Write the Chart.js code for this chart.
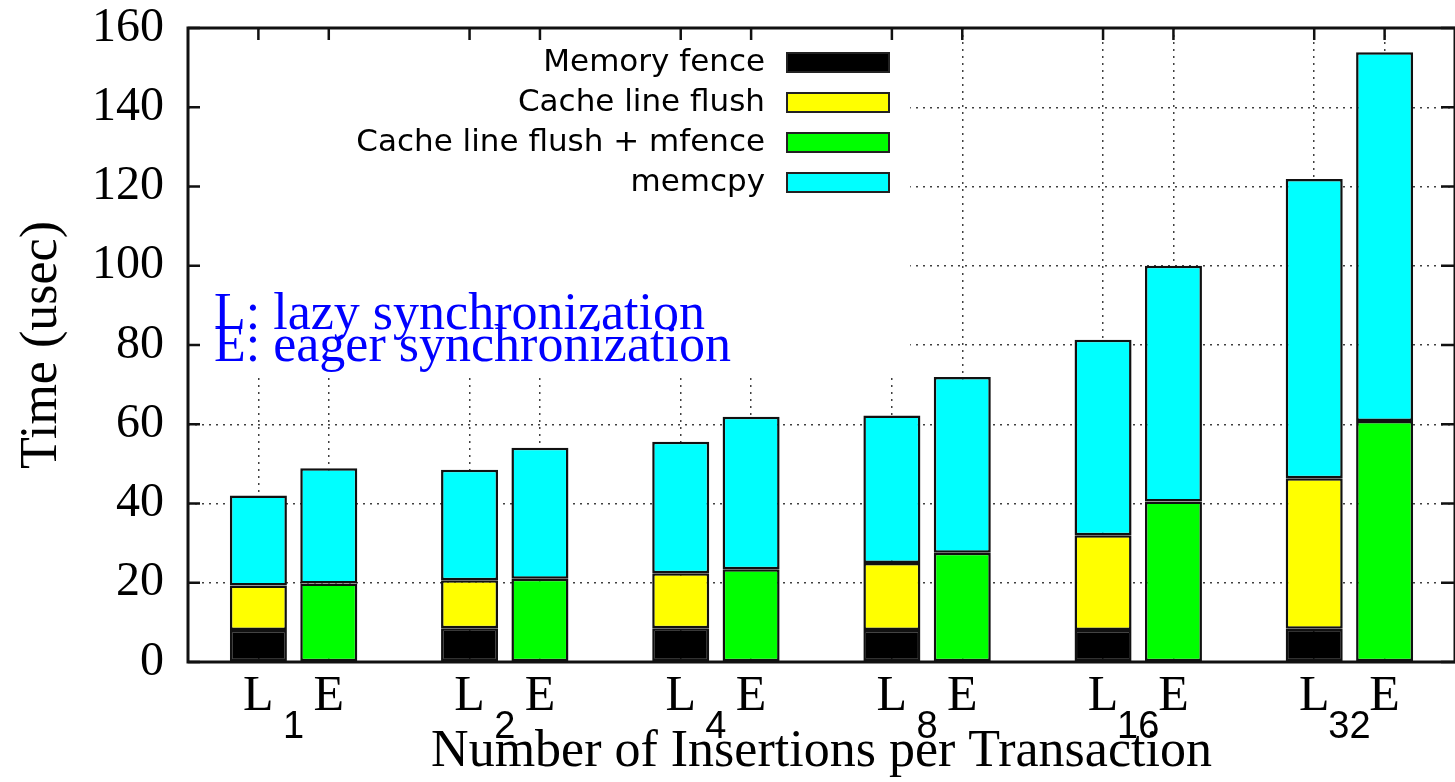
<!DOCTYPE html>
<html>
<head>
<meta charset="utf-8">
<script src="https://cdn.jsdelivr.net/npm/chart.js@4.4.1/dist/chart.umd.min.js"></script>
<style>
  html, body { margin: 0; padding: 0; background: #fff; }
  #wrap { width: 1455px; height: 782px; }
</style>
</head>
<body>
<div id="wrap"><canvas id="chart"></canvas></div>
<script>
// number of insertions per transaction (one L/E pair per group)
const groups = ['1', '2', '4', '8', '16', '32'];

// L = lazy synchronization
const lazyFence = [8.1, 8.5, 8.5, 8.1, 8.1, 8.4];
const lazyFlush = [11.2, 12.1, 13.9, 16.9, 23.9, 38.0];
const lazyMemcpy = [22.7, 27.9, 33.2, 37.2, 49.3, 75.5];

// E = eager synchronization
const eagerFlushFence = [19.8, 21.0, 23.4, 27.6, 40.5, 60.8];
const eagerMemcpy = [29.1, 33.1, 38.5, 44.3, 59.5, 93.1];

const seriesNames = ['Memory fence', 'Cache line flush', 'Cache line flush + mfence', 'memcpy'];
const seriesColors = ['#000000', '#ffff00', '#00ff00', '#00ffff'];
const yTicks = [0, 20, 40, 60, 80, 100, 120, 140, 160];
const noteLines = ['L: lazy synchronization', 'E: eager synchronization'];

// slots: blank, then L, E, blank for every group
const labels = [''];
groups.forEach(() => labels.push('L', 'E', ''));
const lIdx = i => 1 + i * 3;
const eIdx = i => 2 + i * 3;

function place(lazy, eager) {
    const arr = new Array(labels.length).fill(null);
    if (lazy) lazy.forEach((v, i) => arr[lIdx(i)] = v);
    if (eager) eager.forEach((v, i) => arr[eIdx(i)] = v);
    return arr;
}

const serif = '"Liberation Serif", "Times New Roman", serif';
const gridColor = 'rgba(0,0,0,0.75)';

// white key box (in axis units) behind legend and note
const keyBoxRight = 10.26;
const keyBoxBottom = 72;

const paperPlugin = {
    id: 'paper',
    beforeDatasetsDraw(chart) {
        const { ctx, chartArea: a, scales: { x, y } } = chart;
        ctx.save();
        ctx.fillStyle = '#fff';
        ctx.fillRect(a.left + 2, a.top + 2, x.getPixelForValue(keyBoxRight) - a.left - 2, y.getPixelForValue(keyBoxBottom) - a.top - 2);
        ctx.restore();
    },
    afterDatasetsDraw(chart) {
        const { ctx, chartArea: a, scales: { x, y } } = chart;
        ctx.save();

        // frame
        ctx.strokeStyle = '#111';
        ctx.lineWidth = 3;
        ctx.strokeRect(a.left, a.top, a.right - a.left, a.bottom - a.top);

        // inward ticks
        ctx.lineWidth = 2.5;
        ctx.beginPath();
        yTicks.forEach(v => {
            const py = y.getPixelForValue(v);
            ctx.moveTo(a.left, py); ctx.lineTo(a.left + 12, py);
            ctx.moveTo(a.right, py); ctx.lineTo(a.right - 14, py);
        });
        labels.forEach((lab, i) => {
            if (!lab) return;
            const px = x.getPixelForValue(i);
            ctx.moveTo(px, a.top); ctx.lineTo(px, a.top + 12);
        });
        ctx.stroke();

        // group numbers under each L/E pair
        ctx.fillStyle = '#000';
        ctx.font = '38px "Liberation Sans", Arial, sans-serif';
        ctx.textAlign = 'center';
        ctx.textBaseline = 'middle';
        groups.forEach((g, i) => {
            const px = (x.getPixelForValue(lIdx(i)) + x.getPixelForValue(eIdx(i))) / 2;
            ctx.fillText(g, px, a.bottom + 66);
        });

        // legend: text on the left, swatch on the right
        ctx.font = '31px "DejaVu Sans", sans-serif';
        ctx.textAlign = 'right';
        chart.data.datasets.forEach((ds, k) => {
            const rowY = a.top + 35 + k * 40;
            ctx.fillStyle = '#000';
            ctx.fillText(ds.label, 765, rowY);
            ctx.fillStyle = ds.backgroundColor;
            ctx.fillRect(787, rowY - 10, 102, 19);
            ctx.strokeStyle = '#222';
            ctx.lineWidth = 2;
            ctx.strokeRect(787, rowY - 10, 102, 19);
        });

        // note
        ctx.font = '52px ' + serif;
        ctx.fillStyle = '#0000ff';
        ctx.textAlign = 'left';
        ctx.textBaseline = 'alphabetic';
        noteLines.forEach((t, k) => ctx.fillText(t, a.left + 26, 329 + k * 32));

        ctx.restore();
    }
};

const barStyle = { borderColor: '#111', borderWidth: 2.5, borderSkipped: false, barPercentage: 0.81, categoryPercentage: 1.0, stack: 's' };

new Chart(document.getElementById('chart'), {
    type: 'bar',
    data: {
        labels: labels,
        datasets: [
            { label: seriesNames[0], data: place(lazyFence, null), backgroundColor: seriesColors[0], ...barStyle },
            { label: seriesNames[1], data: place(lazyFlush, null), backgroundColor: seriesColors[1], ...barStyle },
            { label: seriesNames[2], data: place(null, eagerFlushFence), backgroundColor: seriesColors[2], ...barStyle },
            { label: seriesNames[3], data: place(lazyMemcpy, eagerMemcpy), backgroundColor: seriesColors[3], ...barStyle }
        ]
    },
    options: {
        responsive: true,
        maintainAspectRatio: false,
        animation: false,
        layout: { padding: { top: 28, right: 0, left: 0, bottom: 0 } },
        plugins: { legend: { display: false }, tooltip: { enabled: false } },
        scales: {
            x: {
                stacked: true,
                offset: false,
                afterFit: s => { s.height = 120; s.paddingLeft = 0; s.paddingRight = 0; },
                grid: {
                    offset: false,
                    drawTicks: false,
                    lineWidth: 1.5,
                    color: c => (labels[c.index] ? gridColor : 'rgba(0,0,0,0)')
                },
                border: { display: false, dash: [2, 5] },
                ticks: {
                    autoSkip: false,
                    maxRotation: 0,
                    padding: 5,
                    color: '#000',
                    font: { family: serif, size: 50 }
                },
                title: {
                    display: true,
                    text: 'Number of Insertions per Transaction',
                    color: '#000',
                    font: { family: serif, size: 52, lineHeight: 1 },
                    padding: { top: 0, bottom: 4 }
                }
            },
            y: {
                stacked: true,
                min: 0,
                max: 160,
                afterFit: s => { s.width = 188; s.paddingTop = 0; s.paddingBottom = 0; },
                afterBuildTicks: s => { s.ticks = yTicks.map(v => ({ value: v })); },
                grid: { drawTicks: false, lineWidth: 1.5, color: gridColor },
                border: { display: false, dash: [2, 5] },
                ticks: {
                    padding: 24,
                    color: '#000',
                    font: { family: serif, size: 48 }
                },
                title: {
                    display: true,
                    text: 'Time (usec)',
                    color: '#000',
                    font: { family: serif, size: 52, lineHeight: 1 },
                    padding: { top: 16, bottom: 0 }
                }
            }
        }
    },
    plugins: [paperPlugin]
});
</script>
</body>
</html>
